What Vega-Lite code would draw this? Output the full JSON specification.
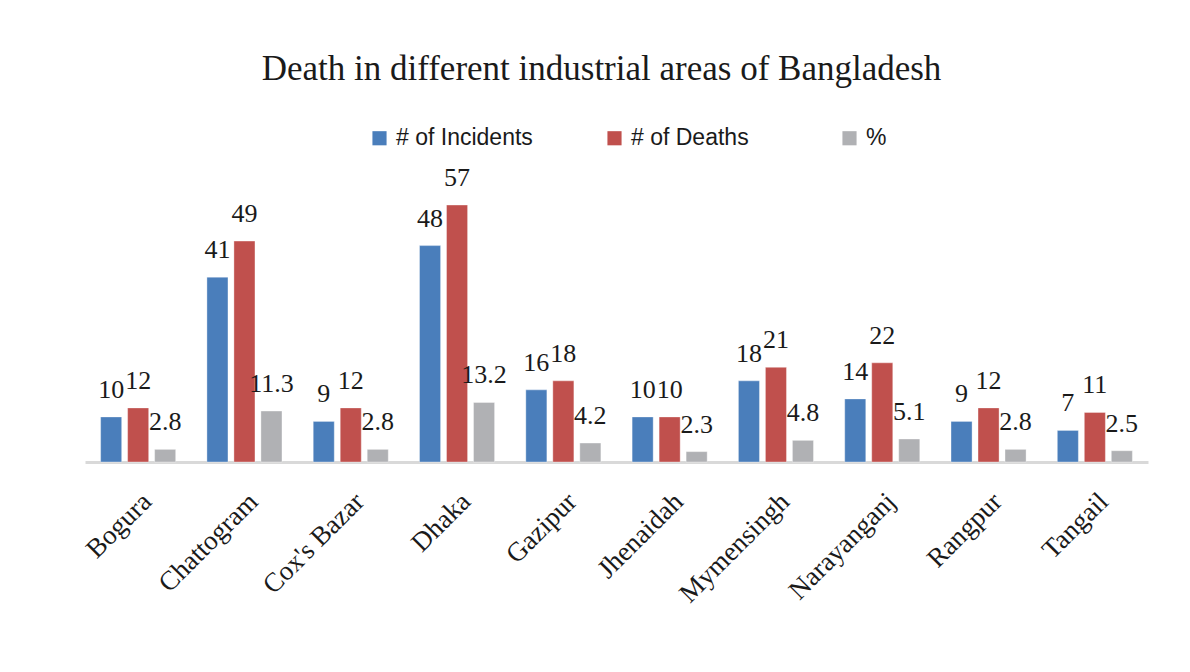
{
  "$schema": "https://vega.github.io/schema/vega-lite/v6.json",
  "autosize": "none",
  "width": 1063,
  "height": 270.5,
  "padding": {"left": 85, "top": 191.5, "right": 42, "bottom": 210},
  "background": "white",
  "title": {
    "text": "Death in different industrial areas of Bangladesh",
    "font": "Liberation Serif",
    "fontSize": 35,
    "fontWeight": "normal",
    "color": "#1a1a1a",
    "anchor": "middle",
    "frame": "group",
    "offset": 40,
    "dx": -15
  },
  "data": {
    "values": [
      {"area": "Bogura", "series": "# of Incidents", "value": 10},
      {"area": "Bogura", "series": "# of Deaths", "value": 12},
      {"area": "Bogura", "series": "%", "value": 2.8},
      {"area": "Chattogram", "series": "# of Incidents", "value": 41},
      {"area": "Chattogram", "series": "# of Deaths", "value": 49},
      {"area": "Chattogram", "series": "%", "value": 11.3},
      {"area": "Cox's Bazar", "series": "# of Incidents", "value": 9},
      {"area": "Cox's Bazar", "series": "# of Deaths", "value": 12},
      {"area": "Cox's Bazar", "series": "%", "value": 2.8},
      {"area": "Dhaka", "series": "# of Incidents", "value": 48},
      {"area": "Dhaka", "series": "# of Deaths", "value": 57},
      {"area": "Dhaka", "series": "%", "value": 13.2},
      {"area": "Gazipur", "series": "# of Incidents", "value": 16},
      {"area": "Gazipur", "series": "# of Deaths", "value": 18},
      {"area": "Gazipur", "series": "%", "value": 4.2},
      {"area": "Jhenaidah", "series": "# of Incidents", "value": 10},
      {"area": "Jhenaidah", "series": "# of Deaths", "value": 10},
      {"area": "Jhenaidah", "series": "%", "value": 2.3},
      {"area": "Mymensingh", "series": "# of Incidents", "value": 18},
      {"area": "Mymensingh", "series": "# of Deaths", "value": 21},
      {"area": "Mymensingh", "series": "%", "value": 4.8},
      {"area": "Narayanganj", "series": "# of Incidents", "value": 14},
      {"area": "Narayanganj", "series": "# of Deaths", "value": 22},
      {"area": "Narayanganj", "series": "%", "value": 5.1},
      {"area": "Rangpur", "series": "# of Incidents", "value": 9},
      {"area": "Rangpur", "series": "# of Deaths", "value": 12},
      {"area": "Rangpur", "series": "%", "value": 2.8},
      {"area": "Tangail", "series": "# of Incidents", "value": 7},
      {"area": "Tangail", "series": "# of Deaths", "value": 11},
      {"area": "Tangail", "series": "%", "value": 2.5}
    ]
  },
  "encoding": {
    "x": {
      "field": "area",
      "type": "nominal",
      "sort": null,
      "scale": {"paddingInner": 0.238, "paddingOuter": 0.119},
      "axis": {
        "title": null,
        "labelAngle": -45,
        "labelFont": "Liberation Serif",
        "labelFontSize": 27,
        "labelColor": "#1a1a1a",
        "labelPadding": 26,
        "ticks": false,
        "domainColor": "#d9d9d9",
        "domainWidth": 3,
        "grid": false
      }
    },
    "xOffset": {
      "field": "series",
      "type": "nominal",
      "sort": ["# of Incidents", "# of Deaths", "%"],
      "scale": {"paddingInner": 0.22, "paddingOuter": 0.11}
    },
    "y": {
      "field": "value",
      "type": "quantitative",
      "scale": {"domain": [0, 60], "nice": false},
      "axis": null
    }
  },
  "layer": [
    {
      "mark": {"type": "bar", "stroke": "white", "strokeWidth": 0.6, "strokeOpacity": 0.6},
      "encoding": {
        "color": {
          "field": "series",
          "type": "nominal",
          "sort": ["# of Incidents", "# of Deaths", "%"],
          "scale": {
            "domain": ["# of Incidents", "# of Deaths", "%"],
            "range": ["#4a7ebb", "#c0504d", "#b0b1b4"]
          },
          "legend": {
            "title": null,
            "orient": "none",
            "direction": "horizontal",
            "legendX": 283,
            "legendY": -65,
            "symbolType": "square",
            "symbolSize": 200,
            "symbolStrokeWidth": 0,
            "labelFont": "Liberation Sans",
            "labelFontSize": 23,
            "labelColor": "#1a1a1a",
            "labelOffset": 5,
            "gridAlign": "all",
            "columnPadding": 70,
            "labelLimit": 300
          }
        }
      }
    },
    {
      "mark": {
        "type": "text",
        "baseline": "middle",
        "dy": -27,
        "font": "Liberation Serif",
        "fontSize": 26,
        "color": "#1a1a1a"
      },
      "encoding": {
        "text": {"field": "value", "type": "nominal"}
      }
    }
  ],
  "config": {"view": {"stroke": null}}
}
